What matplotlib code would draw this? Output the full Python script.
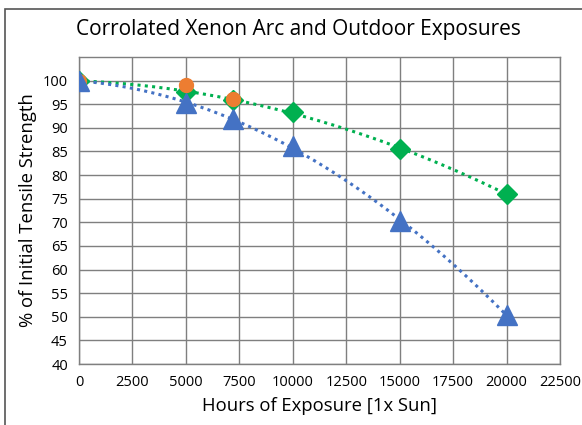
import numpy as np
import matplotlib
matplotlib.use("Agg")
import matplotlib.pyplot as plt
from matplotlib.patches import Rectangle

plt.rcParams['font.family'] = ['Open Sans', 'DejaVu Sans']

# Data
hours_blue = [0, 5000, 7200, 10000, 15000, 20000]
strength_blue = [100, 95.2, 91.8, 86.1, 70.3, 50.4]
hours_green = [0, 5000, 7200, 10000, 15000, 20000]
strength_green = [100, 97.6, 96.0, 93.3, 85.6, 76.0]
hours_orange = [0, 5000, 7200]
strength_orange = [100, 99.1, 96.1]

xticks = [0, 2500, 5000, 7500, 10000, 12500, 15000, 17500, 20000, 22500]
yticks = [40, 45, 50, 55, 60, 65, 70, 75, 80, 85, 90, 95, 100]

BLUE = '#4472C4'
GREEN = '#00B050'
ORANGE = '#ED7D31'

fig = plt.figure(figsize=(5.82, 4.25), dpi=100)
ax = fig.add_axes([79/582, 1-364/425, (560-79)/582, (364-57)/425])

# Trendlines (2nd order polynomial fits)
xs = np.linspace(0, 20000, 200)
pb = np.polyfit(hours_blue, strength_blue, 2)
pg = np.polyfit(hours_green, strength_green, 2)
ax.plot(xs, np.polyval(pg, xs), color=GREEN, lw=2.2, ls=(0, (1, 1.4)), zorder=3)
ax.plot(xs, np.polyval(pb, xs), color=BLUE, lw=2.2, ls=(0, (1, 1.4)), zorder=3)

ax.plot(hours_green, strength_green, 'D', color=GREEN, ms=10, mec=GREEN, zorder=4, linestyle='none')
ax.plot(hours_orange, strength_orange, 'o', color=ORANGE, ms=10, zorder=5, linestyle='none')
ax.plot(hours_blue, strength_blue, '^', color=BLUE, ms=14, zorder=6, linestyle='none')

ax.set_xlim(0, 22500)
ax.set_ylim(40, 105)
ax.set_xticks(xticks)
ax.set_yticks(yticks)
ax.set_xticklabels([str(v) for v in xticks], fontsize=10.5)
ax.set_yticklabels([str(v) for v in yticks], fontsize=10.5)
ax.tick_params(length=0, pad=8)
ax.grid(True, color='#7f7f7f', lw=1.0, zorder=0)
ax.set_axisbelow(True)
for s in ax.spines.values():
    s.set_color('#7f7f7f')
    s.set_linewidth(1.0)

ax.set_xlabel('Hours of Exposure [1x Sun]', fontsize=13.3, labelpad=5)
ax.set_ylabel('% of Initial Tensile Strength', fontsize=13.3, labelpad=4)
fig.text(0.513, 1-29/425, 'Corrolated Xenon Arc and Outdoor Exposures', fontsize=15,
         ha='center', va='center')

fig.patches.append(Rectangle((5/582, -0.05), 1.0, 1-9/425+0.05, transform=fig.transFigure,
                             fill=False, edgecolor='#555555', lw=1.2))

fig.savefig('out.png', dpi=100)
